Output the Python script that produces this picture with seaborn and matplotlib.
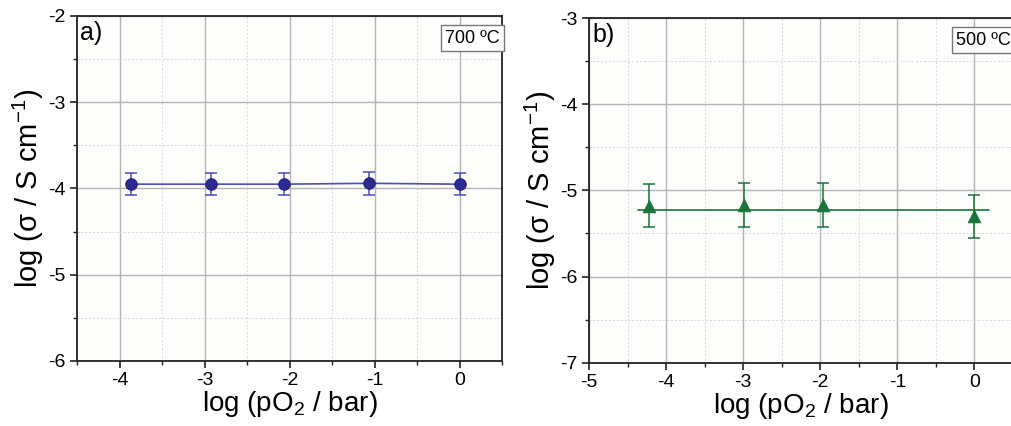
import numpy as np
import pandas as pd
import matplotlib
matplotlib.use("Agg")
import matplotlib.pyplot as plt
import seaborn as sns
from matplotlib.ticker import MultipleLocator

# ---- data ----
a_x = [-3.87, -2.92, -2.07, -1.06, 0.0]
a_y = [-3.95, -3.95, -3.95, -3.94, -3.95]
a_err = [0.13, 0.13, 0.13, 0.13, 0.13]

b_x = [-4.22, -2.99, -1.96, 0.0]
b_y = [-5.18, -5.17, -5.17, -5.30]
b_err = [0.25, 0.25, 0.25, 0.25]
b_fit_x = [-4.37, 0.19]
b_fit_y = [-5.23, -5.23]

panel_labels = ["a)", "b)"]
temp_labels = ["700 ºC", "500 ºC"]
xlabel = "log (pO$_2$ / bar)"
ylabel = "log (σ / S cm$^{-1}$)"

sns.set_theme(style="ticks")
plt.rcParams["font.family"] = ["Liberation Sans", "DejaVu Sans"]
plt.rcParams["mathtext.fontset"] = "custom"
plt.rcParams["mathtext.rm"] = "Liberation Sans"
plt.rcParams["mathtext.it"] = "Liberation Sans:italic"
plt.rcParams["mathtext.bf"] = "Liberation Sans:bold"
plt.rcParams["axes.unicode_minus"] = False
for k in ["text.color", "axes.labelcolor", "xtick.color", "ytick.color"]:
    plt.rcParams[k] = "black"

fig = plt.figure(figsize=(10.11, 4.26), dpi=100)
fig.patch.set_facecolor("white")
ax_a = fig.add_axes([0.0762, 0.1526, 0.4204, 0.8099])
ax_b = fig.add_axes([0.5826, 0.1486, 0.4194, 0.8090])

blue_m = "#2b2b92"
blue_l = "#4d4db5"
green = "#17743a"

# panel a
df_a = pd.DataFrame({"x": a_x, "y": a_y})
ax_a.errorbar(a_x, a_y, yerr=a_err, fmt="none", ecolor=blue_l, elinewidth=1.1,
              capsize=4, capthick=1.1, zorder=3)
sns.lineplot(data=df_a, x="x", y="y", ax=ax_a, color=blue_l, lw=1.2, zorder=3)
sns.scatterplot(data=df_a, x="x", y="y", ax=ax_a, color=blue_m, s=70,
                edgecolor="#1c1c70", linewidth=0.6, zorder=4)

# panel b
df_b = pd.DataFrame({"x": b_x, "y": b_y})
df_fit = pd.DataFrame({"x": b_fit_x, "y": b_fit_y})
ax_b.errorbar(b_x, b_y, yerr=b_err, fmt="none", ecolor=green, elinewidth=1.1,
              capsize=4, capthick=1.1, zorder=3)
sns.lineplot(data=df_fit, x="x", y="y", ax=ax_b, color=green, lw=1.2, zorder=3)
sns.scatterplot(data=df_b, x="x", y="y", ax=ax_b, color=green, marker="^", s=85,
                edgecolor=green, linewidth=0.5, zorder=4)

settings = [
    (ax_a, (-4.5, 0.5), (-6, -2), [-4, -3, -2, -1, 0]),
    (ax_b, (-5, 0.5), (-7, -3), [-5, -4, -3, -2, -1, 0]),
]
for i, (ax, xl, yl, xt) in enumerate(settings):
    ax.set_facecolor("#fdfdfb")
    ax.set_xlim(*xl)
    ax.set_ylim(*yl)
    ax.set_xticks(xt)
    ax.set_yticks(np.arange(yl[0], yl[1] + 0.5, 1))
    ax.xaxis.set_minor_locator(MultipleLocator(0.5))
    ax.yaxis.set_minor_locator(MultipleLocator(0.5))
    ax.grid(which="major", color="#b4b4b4", lw=1.0, ls="-", zorder=0)
    ax.grid(which="minor", color="#d8d8d8", lw=0.7, ls=(0, (2, 2)), zorder=0)
    ax.set_axisbelow(True)
    ax.tick_params(which="major", direction="out", length=5, width=1.2,
                   labelsize=14, color="#222222", pad=3, top=False, right=False)
    ax.tick_params(which="minor", direction="out", length=3, width=1.0,
                   color="#222222", top=False, right=False)
    for s in ax.spines.values():
        s.set_color("#222222")
        s.set_linewidth(1.3)
    ax.set_xlabel(xlabel, fontsize=20, labelpad=0)
    ax.set_ylabel(ylabel, fontsize=21, labelpad=2)
    ax.text(0.008, 0.985, panel_labels[i], transform=ax.transAxes, fontsize=18,
            ha="left", va="top")
    ax.text(0.995, 0.96, temp_labels[i], transform=ax.transAxes,
            fontsize=13, ha="right", va="top",
            bbox=dict(boxstyle="square,pad=0.25", fc="white", ec="#777777", lw=1))

fig.savefig("out.png", dpi=100)
